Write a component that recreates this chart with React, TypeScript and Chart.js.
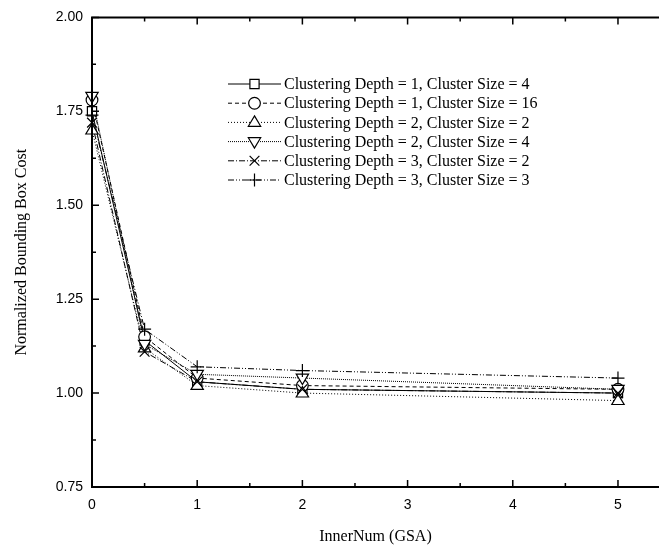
import React, { useEffect, useRef } from "react";
import { Chart, registerables } from "chart.js";

Chart.register(...registerables);

const xValues = [0, 0.5, 1, 2, 5];
const xTickValues = [0, 1, 2, 3, 4, 5];
const yTickValues = [0.75, 1.0, 1.25, 1.5, 1.75, 2.0];

const seriesLabels = [
  "Clustering Depth = 1, Cluster Size = 4",
  "Clustering Depth = 1, Cluster Size = 16",
  "Clustering Depth = 2, Cluster Size = 2",
  "Clustering Depth = 2, Cluster Size = 4",
  "Clustering Depth = 3, Cluster Size = 2",
  "Clustering Depth = 3, Cluster Size = 3",
];

const d1s4 = [1.75, 1.14, 1.03, 1.01, 1.0];
const d1s16 = [1.78, 1.15, 1.04, 1.02, 1.01];
const d2s2 = [1.7, 1.12, 1.02, 1.0, 0.98];
const d2s4 = [1.79, 1.13, 1.05, 1.04, 1.01];
const d3s2 = [1.72, 1.11, 1.03, 1.01, 1.0];
const d3s3 = [1.74, 1.17, 1.07, 1.06, 1.04];

const seriesValues = [d1s4, d1s16, d2s2, d2s4, d3s2, d3s3];
const dashes: number[][] = [[], [4, 3], [1, 2], [1, 1], [6, 2, 1, 2], [6, 2, 1, 2, 1, 2]];
const markers = ["rect", "circle", "triangle", "triangle", "crossRot", "cross"];
const rotations = [0, 0, 0, 180, 0, 0];

const markerRadius = 6.5;

function drawMarker(ctx: CanvasRenderingContext2D, style: string, rot: number, x: number, y: number, r: number) {
  ctx.save();
  ctx.setLineDash([]);
  ctx.lineWidth = 1.2;
  ctx.strokeStyle = "#000";
  ctx.fillStyle = "#fff";
  ctx.translate(x, y);
  ctx.rotate((rot * Math.PI) / 180);
  ctx.beginPath();
  if (style === "rect") {
    const s = r * Math.SQRT1_2;
    ctx.rect(-s, -s, 2 * s, 2 * s);
    ctx.fill();
    ctx.stroke();
  } else if (style === "circle") {
    ctx.arc(0, 0, r * 0.9, 0, Math.PI * 2);
    ctx.fill();
    ctx.stroke();
  } else if (style === "triangle") {
    ctx.moveTo(0, -r);
    ctx.lineTo(r * 0.95, r * 0.6);
    ctx.lineTo(-r * 0.95, r * 0.6);
    ctx.closePath();
    ctx.fill();
    ctx.stroke();
  } else if (style === "crossRot") {
    const s = r * 0.75;
    ctx.moveTo(-s, -s);
    ctx.lineTo(s, s);
    ctx.moveTo(-s, s);
    ctx.lineTo(s, -s);
    ctx.stroke();
  } else if (style === "cross") {
    ctx.moveTo(-r, 0);
    ctx.lineTo(r, 0);
    ctx.moveTo(0, -r);
    ctx.lineTo(0, r);
    ctx.stroke();
  }
  ctx.restore();
}

const framePlugin = {
  id: "frameTicks",
  afterDraw(chart: any) {
    const ctx: CanvasRenderingContext2D = chart.ctx;
    const { left, right, top, bottom } = chart.chartArea;
    const xs = chart.scales.x;
    const ys = chart.scales.y;
    ctx.save();
    ctx.strokeStyle = "#000";
    ctx.setLineDash([]);
    ctx.lineWidth = 2;
    ctx.beginPath();
    ctx.moveTo(left, top);
    ctx.lineTo(right + 2, top);
    ctx.moveTo(left, top - 1);
    ctx.lineTo(left, bottom);
    ctx.lineTo(right + 2, bottom);
    ctx.stroke();
    ctx.lineWidth = 1.5;
    ctx.beginPath();
    for (let i = 0; i <= 10; i++) {
      const v = i * 0.5;
      const px = xs.getPixelForValue(v);
      const len = i % 2 === 0 ? 7 : 4;
      ctx.moveTo(px, bottom);
      ctx.lineTo(px, bottom - len);
      ctx.moveTo(px, top);
      ctx.lineTo(px, top + len);
    }
    for (let i = 0; i <= 10; i++) {
      const v = 0.75 + i * 0.125;
      const py = ys.getPixelForValue(v);
      const len = i % 2 === 0 ? 7 : 4;
      ctx.moveTo(left, py);
      ctx.lineTo(left + len, py);
    }
    ctx.stroke();

    // legend
    const lx0 = 228;
    const lx1 = 281;
    const ly0 = 84;
    const dy = 19.2;
    ctx.font = "16px 'Liberation Serif'";
    ctx.fillStyle = "#000";
    ctx.textBaseline = "middle";
    ctx.textAlign = "left";
    for (let i = 0; i < seriesLabels.length; i++) {
      const y = ly0 + i * dy;
      ctx.lineWidth = 1;
      ctx.setLineDash(dashes[i]);
      ctx.beginPath();
      ctx.moveTo(lx0, y);
      ctx.lineTo(lx1, y);
      ctx.stroke();
      drawMarker(ctx, markers[i], rotations[i], (lx0 + lx1) / 2, y, markerRadius);
      ctx.fillText(seriesLabels[i], lx1 + 3, y + 1);
    }
    ctx.restore();
  },
};

const markerPlugin = {
  id: "customMarkers",
  afterDatasetsDraw(chart: any) {
    const ctx: CanvasRenderingContext2D = chart.ctx;
    chart.data.datasets.forEach((ds: any, i: number) => {
      const meta = chart.getDatasetMeta(i);
      meta.data.forEach((pt: any) => {
        drawMarker(ctx, markers[i], rotations[i], pt.x, pt.y, markerRadius);
      });
    });
  },
};

export default function App() {
  const ref = useRef<HTMLCanvasElement>(null);
  useEffect(() => {
    if (!ref.current) return;
    const datasets = seriesValues.map((vals, i) => ({
      label: seriesLabels[i],
      data: vals.map((v, j) => ({ x: xValues[j], y: v })),
      borderColor: "#000",
      borderWidth: 1,
      borderDash: dashes[i],
      pointRadius: 0,
      fill: false,
      tension: 0,
    }));
    const chart = new Chart(ref.current, {
      type: "line",
      data: { datasets },
      plugins: [markerPlugin, framePlugin],
      options: {
        animation: false,
        responsive: false,
        maintainAspectRatio: false,
        layout: { padding: { top: 17, right: 0, left: 0, bottom: 0 } },
        plugins: { legend: { display: false }, tooltip: { enabled: false } },
        scales: {
          x: {
            type: "linear",
            min: 0,
            max: 5.39,
            afterBuildTicks: (s: any) => {
              s.ticks = xTickValues.map((v) => ({ value: v }));
            },
            afterFit: (s: any) => {
              s.height = 65;
            },
            grid: { display: false, drawTicks: false },
            border: { display: false },
            ticks: {
              color: "#000",
              padding: 10,
              maxRotation: 0,
              font: { family: "'Liberation Sans'", size: 14 },
              callback: (v: any) => String(v),
            },
            title: {
              display: true,
              text: "InnerNum (GSA)",
              color: "#000",
              font: { family: "'Liberation Serif'", size: 16 },
              padding: { top: 0, bottom: 6 },
            },
          },
          y: {
            type: "linear",
            min: 0.75,
            max: 2.0,
            afterBuildTicks: (s: any) => {
              s.ticks = yTickValues.map((v) => ({ value: v }));
            },
            afterFit: (s: any) => {
              s.width = 92;
            },
            grid: { display: false, drawTicks: false },
            border: { display: false },
            ticks: {
              color: "#000",
              padding: 9,
              font: { family: "'Liberation Sans'", size: 14 },
              callback: (v: any) => Number(v).toFixed(2),
            },
            title: {
              display: true,
              text: "Normalized Bounding Box Cost",
              color: "#000",
              font: { family: "'Liberation Serif'", size: 16 },
              padding: { top: 12, bottom: 0 },
            },
          },
        },
      },
    });
    return () => chart.destroy();
  }, []);
  return (
    <div style={{ position: "fixed", left: 0, top: 0, width: 659, height: 552, background: "#fff" }}>
      <canvas ref={ref} width={659} height={552} style={{ width: 659, height: 552 }} />
    </div>
  );
}
